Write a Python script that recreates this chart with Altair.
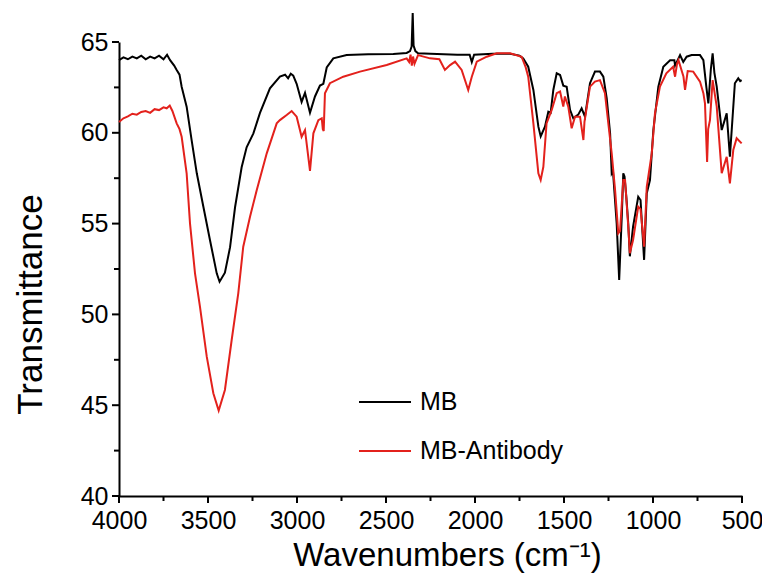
import altair as alt
import pandas as pd

mb_wn = [4000, 3975, 3950, 3925, 3900, 3875, 3850, 3825, 3800, 3775, 3750, 3730, 3713, 3690, 3676, 3660,
         3648, 3620, 3592, 3563, 3526, 3489, 3451, 3435, 3405, 3376, 3348, 3311, 3283, 3245, 3208, 3152,
         3096, 3067, 3050, 3035, 3021, 3002, 2974, 2955, 2927, 2899, 2871, 2852, 2833, 2796, 2721, 2600,
         2459, 2384, 2365, 2356, 2350, 2345, 2335, 2320, 2250, 2100, 2030, 2018, 2005, 1900, 1803, 1750,
         1729, 1701, 1672, 1644, 1631, 1607, 1588, 1575, 1560, 1541, 1522, 1504, 1485, 1466, 1448, 1420,
         1401, 1382, 1354, 1326, 1298, 1279, 1260, 1241, 1232, 1225, 1204, 1190, 1175, 1167, 1160, 1150,
         1139, 1130, 1112, 1083, 1070, 1050, 1035, 1017, 998, 970, 942, 904, 880, 876, 848, 830, 811, 783,
         736, 717, 700, 689, 675, 665, 655, 642, 614, 586, 568, 540, 521, 510, 502]
mb_t = [64.0, 64.15, 64.05, 64.2, 64.1, 64.25, 64.05, 64.2, 64.1, 64.25, 64.05, 64.3, 64.0, 63.7, 63.46, 63.2,
        62.54, 61.44, 59.6, 57.77, 55.93, 54.1, 52.26, 51.8, 52.3, 53.7, 55.9, 58.1, 59.2, 59.97, 61.1, 62.45,
        63.1, 63.2, 63.0, 63.25, 63.15, 62.7, 61.7, 62.2, 61.1, 62.0, 62.6, 62.7, 63.6, 64.1, 64.28, 64.32,
        64.34, 64.4, 64.5, 64.75, 66.6, 64.8, 64.5, 64.38, 64.35, 64.3, 64.3, 63.9, 64.3, 64.35, 64.35, 64.25,
        64.1, 63.64, 62.36, 60.34, 59.8, 60.34, 61.16, 61.1, 62.36, 63.28, 63.18, 62.6, 62.54, 61.26, 60.8, 61.0,
        61.35, 60.89, 62.73, 63.37, 63.37, 63.09, 61.9, 59.97, 57.77, 57.9, 55.0, 51.9, 55.5, 57.77, 57.6, 56.5,
        55.0, 53.2, 54.83, 56.48, 56.3, 53.0, 56.67, 57.4, 60.15, 62.54, 63.64, 64.0, 64.0, 63.7, 64.28, 63.9, 64.19, 64.28,
        64.28, 64.0, 62.5, 61.62, 63.5, 64.38, 63.3, 62.54, 60.15, 61.07, 58.68, 62.73, 63.0, 62.85, 62.9]

ab_wn = [4000, 3975, 3950, 3925, 3900, 3875, 3850, 3825, 3800, 3775, 3750, 3732, 3715, 3700, 3676, 3660,
         3648, 3620, 3601, 3573, 3545, 3507, 3470, 3440, 3405, 3367, 3330, 3302, 3264, 3226, 3170, 3114,
         3096, 3058, 3030, 3021, 3002, 2974, 2955, 2927, 2908, 2880, 2861, 2855, 2850, 2843, 2815, 2740,
         2646, 2496, 2384, 2370, 2362, 2355, 2348, 2340, 2320, 2253, 2200, 2169, 2140, 2112, 2075, 2038,
         2018, 1990, 1934, 1878, 1803, 1738, 1715, 1701, 1672, 1644, 1631, 1616, 1598, 1569, 1541, 1522,
         1504, 1495, 1476, 1457, 1438, 1410, 1391, 1385, 1354, 1326, 1298, 1270, 1251, 1232, 1213, 1195,
         1185, 1167, 1157, 1139, 1130, 1112, 1083, 1070, 1050, 1035, 1007, 989, 961, 925, 887, 876, 865,
         857, 829, 820, 805, 774, 736, 717, 708, 696, 690, 680, 665, 642, 614, 586, 568, 549, 530, 502]
ab_t = [60.6, 60.8, 60.9, 61.05, 61.0, 61.15, 61.2, 61.1, 61.3, 61.25, 61.4, 61.35, 61.5, 61.2, 60.52, 60.2,
        59.78, 57.77, 55.0, 52.26, 50.42, 47.67, 45.66, 44.7, 45.84, 48.59, 51.16, 53.73, 55.38, 56.85, 58.87, 60.52,
        60.7, 60.98, 61.2, 61.1, 60.89, 59.78, 60.15, 57.9, 59.97, 60.7, 60.8, 60.2, 60.1, 62.18, 62.73, 63.09,
        63.37, 63.73, 64.1, 63.9, 64.3, 63.7, 64.2, 63.8, 64.28, 64.1, 64.05, 63.46, 63.73, 63.92, 63.46, 62.36,
        63.09, 63.92, 64.19, 64.38, 64.38, 64.19, 63.6, 63.09, 60.52, 57.77, 57.4, 58.13, 60.52, 61.26, 62.18, 62.27,
        61.44, 62.0, 61.44, 60.25, 60.89, 60.89, 59.6, 60.6, 62.54, 62.82, 62.9, 62.18, 60.52, 58.87, 56.85, 54.47,
        54.6, 57.4, 57.4, 54.83, 53.37, 54.1, 55.93, 55.8, 53.73, 57.03, 58.87, 61.07, 62.54, 63.28, 63.64, 63.09, 63.8,
        64.0, 63.1, 62.36, 63.4, 63.37, 62.82, 62.18, 61.62, 58.4, 60.2, 60.7, 62.9, 61.44, 57.77, 58.68, 57.22, 59.05, 59.7, 59.42]

series_names = ["MB", "MB-Antibody"]
series_colors = ["#000000", "#e3211c"]
x_major = [500, 1000, 1500, 2000, 2500, 3000, 3500, 4000]
x_minor = [750, 1250, 1750, 2250, 2750, 3250, 3750]
y_major = [40, 45, 50, 55, 60, 65]
y_minor = [42.5, 47.5, 52.5, 57.5, 62.5]

W, H = 623, 454
FONT = "Liberation Sans"

df = pd.concat([
    pd.DataFrame({"wn": mb_wn, "T": mb_t, "series": "MB", "order": range(len(mb_wn))}),
    pd.DataFrame({"wn": ab_wn, "T": ab_t, "series": "MB-Antibody", "order": range(len(ab_wn))}),
])

xs = alt.Scale(domain=[500, 4000], reverse=True, nice=False, zero=False)
ys = alt.Scale(domain=[40, 65], nice=False, zero=False)

x_axis = alt.Axis(title="Wavenumbers (cm⁻¹)", values=x_major, format="d", grid=False,
                  ticks=False, labelFontSize=25, labelFont=FONT, labelPadding=12,
                  titleFontSize=33, titleFont=FONT, titleFontWeight="normal",
                  titleColor="black", titlePadding=6, titleX=328, labelFlush=False)
y_axis = alt.Axis(title="Transmittance", values=y_major, grid=False, ticks=False,
                  labelFontSize=25, labelFont=FONT, labelPadding=11,
                  titleFontSize=35, titleFont=FONT, titleFontWeight="normal",
                  titleColor="black", titlePadding=32, titleY=262, labelFlush=False)

lines = alt.Chart(df).mark_line(strokeWidth=2, clip=False).encode(
    x=alt.X("wn:Q", scale=xs, axis=x_axis),
    y=alt.Y("T:Q", scale=ys, axis=y_axis),
    color=alt.Color("series:N",
                    scale=alt.Scale(domain=series_names, range=series_colors),
                    legend=alt.Legend(title=None, orient="none", legendX=239, legendY=333,
                                      symbolType="stroke", symbolSize=2704, symbolStrokeWidth=2,
                                      labelFontSize=25, labelFont=FONT, labelColor="black",
                                      rowPadding=9, labelOffset=8)),
    order="order:Q",
)

def xtick_layer(vals, length):
    return alt.Chart(pd.DataFrame({"wn": vals})).mark_rule(color="black", strokeWidth=2, clip=False).encode(
        x=alt.X("wn:Q", scale=xs, axis=x_axis),
        y=alt.value(H), y2=alt.value(H + length),
    )

def ytick_layer(vals, length):
    return alt.Chart(pd.DataFrame({"T": vals})).mark_rule(color="black", strokeWidth=2, clip=False).encode(
        y=alt.Y("T:Q", scale=ys, axis=y_axis),
        x=alt.value(-length), x2=alt.value(0),
    )

chart = alt.layer(
    lines,
    xtick_layer(x_major, 7), xtick_layer(x_minor, 5),
    ytick_layer(y_major, 7), ytick_layer(y_minor, 5),
).properties(
    width=W, height=H,
    autosize=alt.AutoSizeParams(type="none"),
    padding={"left": 111, "top": 34, "right": 20, "bottom": 80},
).configure_view(stroke=None).configure_axis(
    domain=True, domainWidth=2, domainColor="#000000", labelColor="#000000",
)

chart.save("out.html", embed_options={"renderer": "svg", "actions": False})
